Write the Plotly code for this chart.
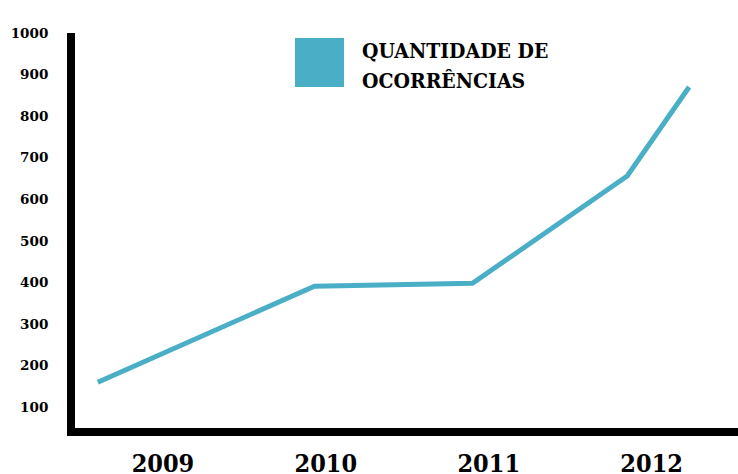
import plotly.graph_objects as go

# Data
x_pos = [2008.60, 2009.93, 2010.90, 2011.85, 2012.23]
ocorrencias = [160, 391, 398, 656, 870]
year_ticks = [2009, 2010, 2011, 2012]
year_labels = ["2009", "2010", "2011", "2012"]
y_ticks = [100, 200, 300, 400, 500, 600, 700, 800, 900, 1000]
legend_lines = ["QUANTIDADE DE", "OCORRÊNCIAS"]

LINE_COLOR = "#4BAEC7"
W, H = 738, 474
L, R, T, B = 75, 0, 33, 46
PW, PH = W - L - R, H - T - B

fig = go.Figure()
fig.add_trace(go.Scatter(
    x=x_pos, y=ocorrencias, mode="lines",
    line=dict(color=LINE_COLOR, width=5),
    name=" ".join(legend_lines), showlegend=False, hoverinfo="skip",
))

fig.update_layout(
    width=W, height=H,
    margin=dict(l=L, r=R, t=T, b=B, pad=0, autoexpand=False),
    paper_bgcolor="white", plot_bgcolor="white",
    xaxis=dict(
        range=[2008.46, 2012.53],
        tickvals=year_ticks, ticktext=year_labels,
        showgrid=False, zeroline=False, automargin=False,
        showline=True, linecolor="black", linewidth=8,
        ticks="", ticklabelstandoff=6,
        tickfont=dict(family="DejaVu Serif Condensed", size=25, color="black", weight="bold"),
    ),
    yaxis=dict(
        range=[50, 1000],
        tickvals=y_ticks, ticktext=[str(v) for v in y_ticks],
        showgrid=False, zeroline=False, automargin=False,
        showline=True, linecolor="black", linewidth=8,
        ticks="", ticklabelstandoff=16,
        tickfont=dict(family="DejaVu Serif", size=13.5, color="black", weight="bold"),
    ),
)

# Legend swatch and label
fig.add_shape(type="rect", xref="paper", yref="paper",
              x0=(295 - L) / PW, x1=(344 - L) / PW,
              y0=(H - B - 87) / PH, y1=(H - B - 38) / PH,
              fillcolor=LINE_COLOR, line=dict(width=0))
for i, line_text in enumerate(legend_lines):
    fig.add_annotation(xref="paper", yref="paper",
                       x=(360 - L) / PW, y=(H - B - 36 - 30 * i) / PH,
                       xanchor="left", yanchor="top", align="left",
                       text=line_text, showarrow=False,
                       font=dict(family="DejaVu Serif Condensed", size=21, color="black", weight="bold"))

fig.write_html("out.html", config={"displayModeBar": False},
               post_script="document.body.style.margin='0';")
